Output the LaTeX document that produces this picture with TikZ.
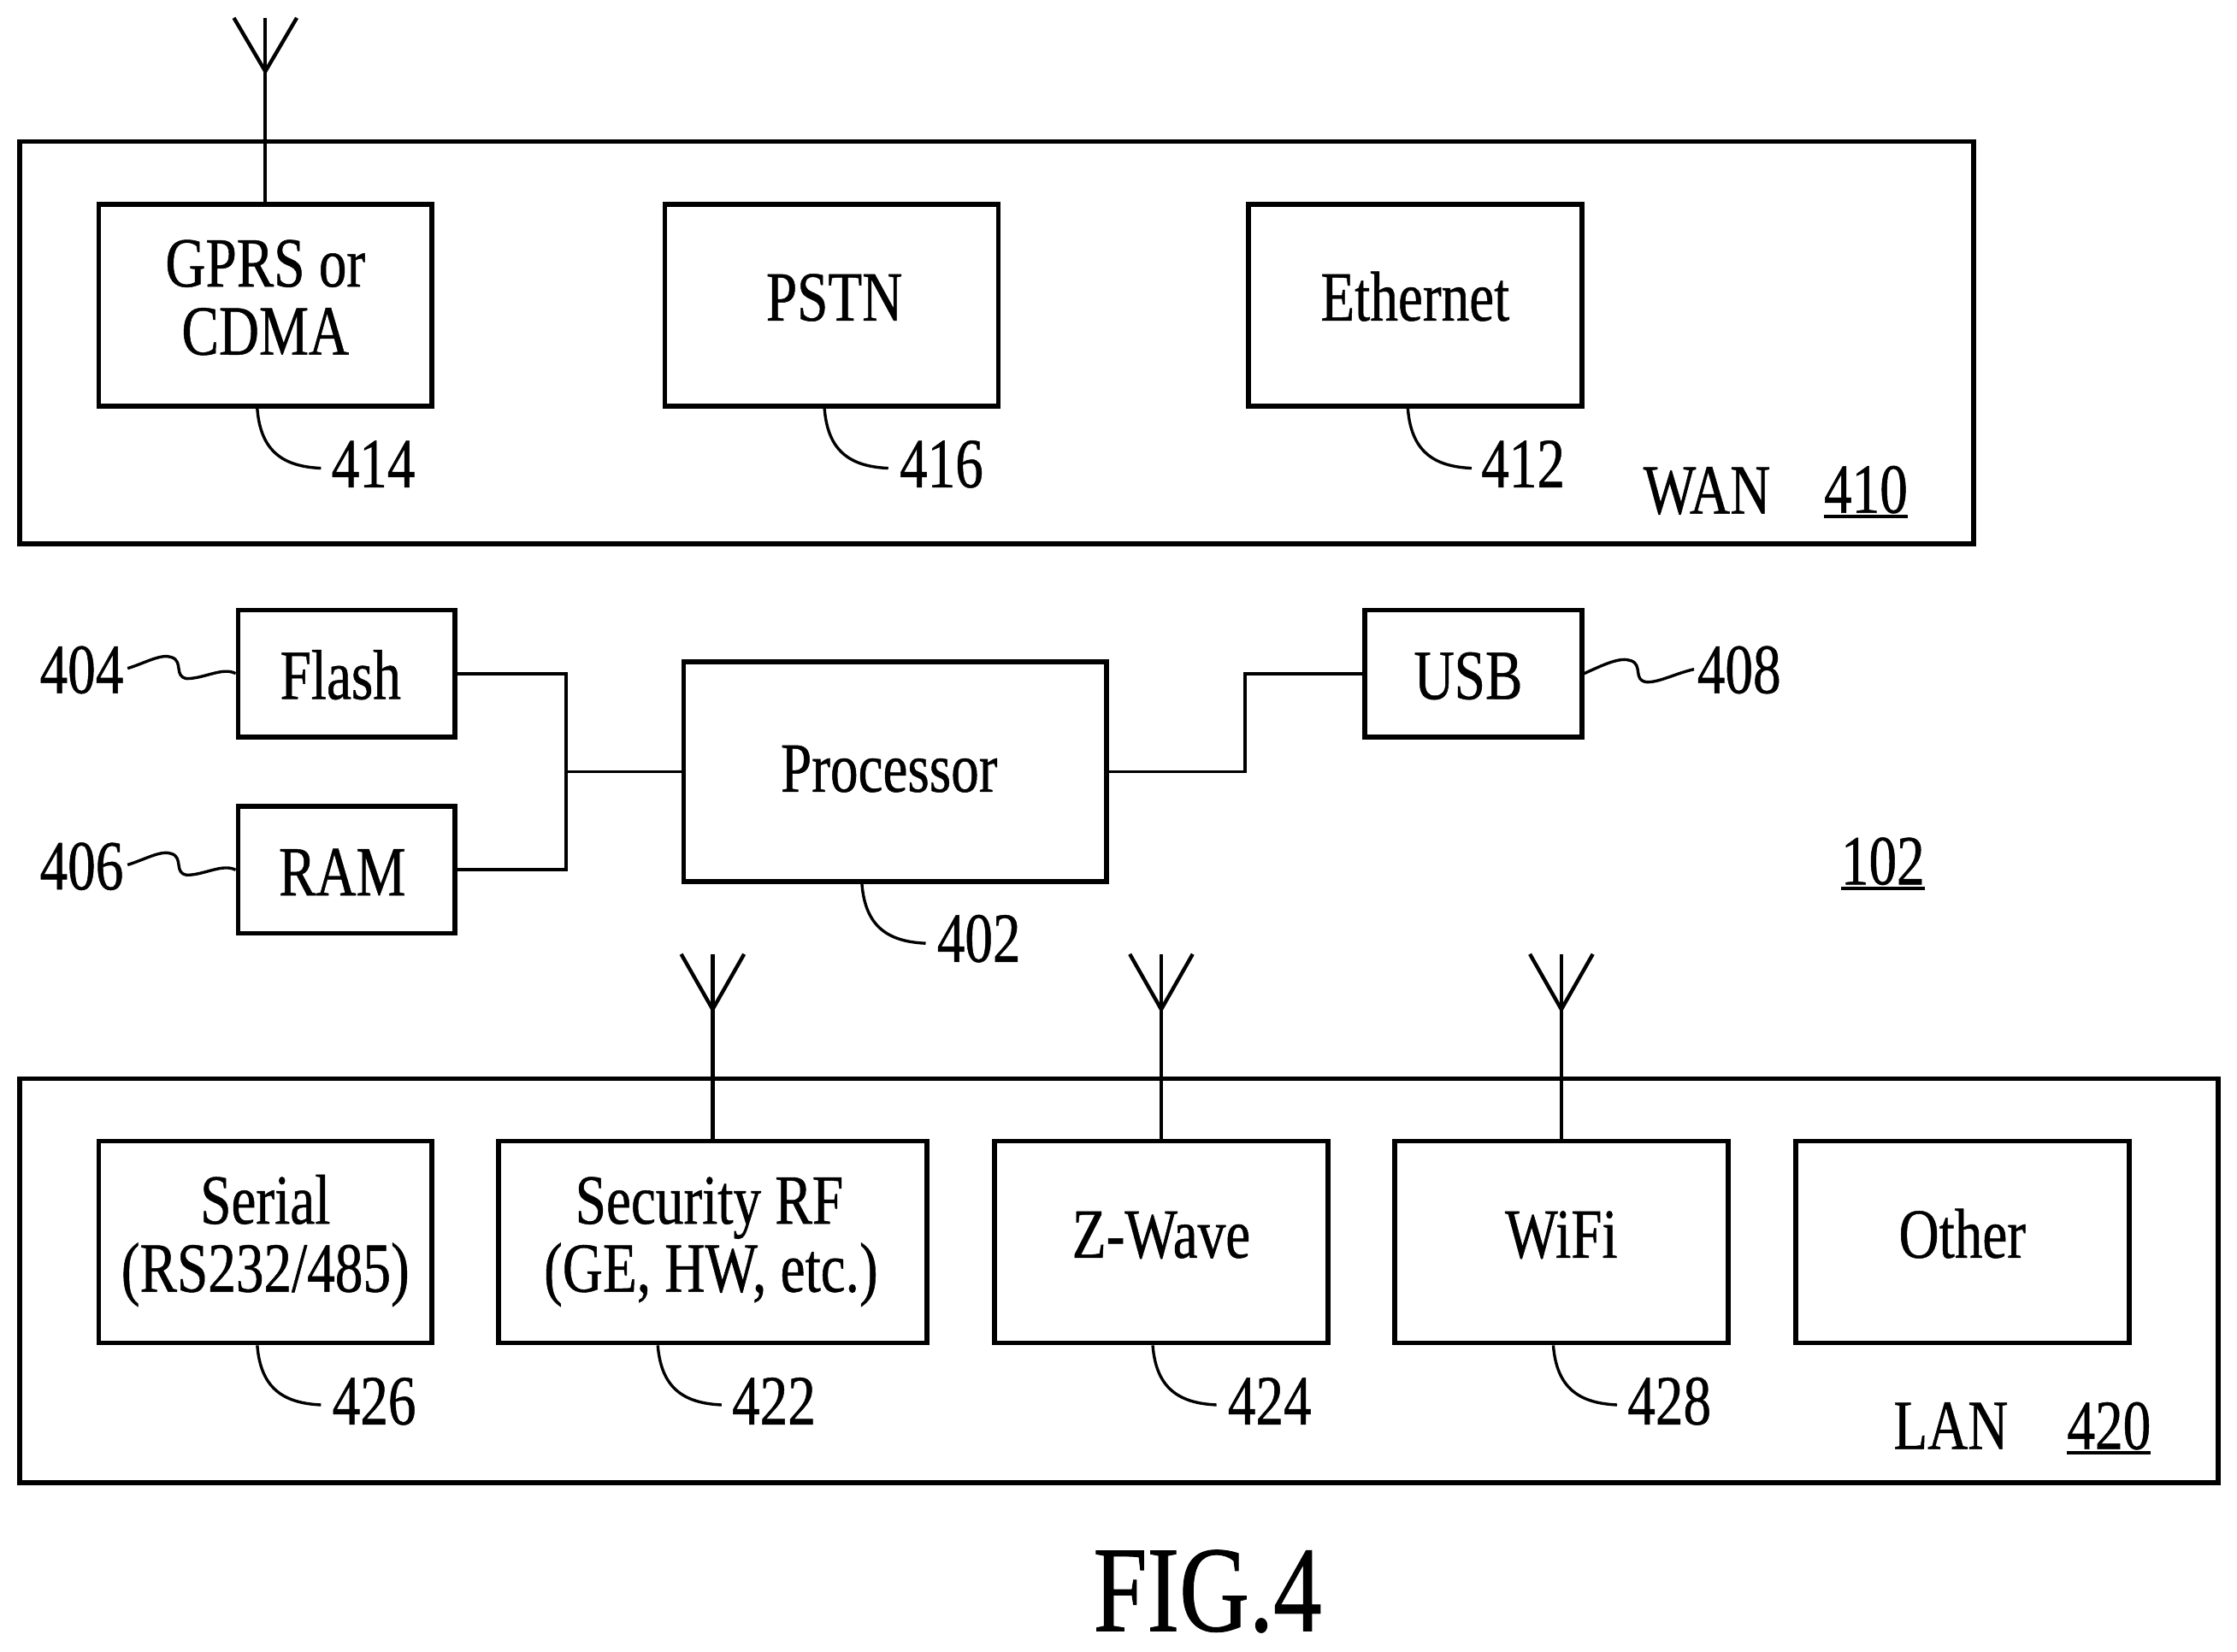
\documentclass[tikz,border=0pt]{standalone}
\usepackage{fontspec}
\usetikzlibrary{calc}
\setmainfont[FakeStretch=0.79,FakeBold=0.6]{Liberation Serif}
\newcommand\ulnum[1]{\setbox0\hbox{#1}\rlap{\rule[-1.7pt]{\wd0}{1pt}}\box0}
\tikzset{
  txt/.style={font=\fontsize{20.75}{20}\selectfont},
  bx/.style={draw,rectangle,line width=1.4pt,inner sep=0pt,align=center,txt},
  side/.style={bx,minimum width=98pt,minimum height=59.4pt},
  small/.style={bx,minimum width=63.8pt,minimum height=37.3pt,text height=15pt,text depth=0pt},
  num/.style={anchor=base,inner sep=0pt,txt},
  lead/.style={line width=0.85pt},
  wire/.style={line width=1pt},
  ant/.style={line width=1.1pt,line join=miter}
}
\begin{document}
\begin{tikzpicture}[x=0.25pt,y=-0.25pt]
\useasboundingbox (0,0) rectangle (2630.5,1942.5);
% containers
\node[bx,minimum width=574.5pt,minimum height=118.3pt] (wan) at (1172,403) {};
\node[bx,minimum width=646.3pt,minimum height=118.8pt] (lan) at (1315.5,1506) {};
% WAN
\node[side,text height=29pt,text depth=0pt] (gprs) at (312,359) {GPRS or\\CDMA};
\node[side,text height=9pt,text depth=0pt] (pstn) at (978,359) {\kern1.5pt PSTN};
\node[side,text height=9pt,text depth=0pt] (eth) at (1664,359) {Ethernet};
\node[num] (n414) at (439,573) {414};
\node[num] (n416) at (1107,573) {416};
\node[num] (n412) at (1791,573) {412};
\node[num] (wanl) at (2007,604) {WAN};
\node[num] (n410) at (2194,603) {\ulnum{410}};
% middle
\node[small] (flash) at (407.5,792) {Flash\kern3.5pt};
\node[small] (ram) at (407.5,1023) {RAM\kern2.5pt};
\node[bx,minimum width=124.3pt,minimum height=64.5pt,text height=11.75pt,text depth=0pt] (proc) at (1052.5,907.5) {Processor\kern3.5pt};
\node[small] (usb) at (1732.5,792) {USB\kern3pt};
\node[num] (n404) at (96,815) {404};
\node[num] (n406) at (96,1046) {406};
\node[num] (n408) at (2045,815) {408};
\node[num] (n102) at (2214,1040) {\ulnum{102}};
\node[num] (n402) at (1151,1131) {402};
% LAN
\node[side,text height=29.25pt,text depth=0pt] (serial) at (312,1460.5) {Serial\\(RS232/485)};
\node[side,minimum width=126pt,text height=29.25pt,text depth=0pt] (sec) at (838,1460.5) {Security RF\kern2pt\\(GE, HW, etc.)\kern1pt};
\node[side,text height=9.25pt,text depth=0pt] (zw) at (1365.5,1460.5) {Z-Wave};
\node[side,text height=9.25pt,text depth=0pt] (wifi) at (1836,1460.5) {WiFi};
\node[side,text height=9.25pt,text depth=0pt] (other) at (2307.5,1460.5) {Other};
\node[num] (n426) at (440,1675) {426};
\node[num] (n422) at (910,1675) {422};
\node[num] (n424) at (1493,1675) {424};
\node[num] (n428) at (1963,1675) {428};
\node[num] (lanl) at (2294,1704) {LAN};
\node[num] (n420) at (2480,1704) {\ulnum{420}};
\node[anchor=base,inner sep=0pt,font=\fontsize{36}{36}\selectfont] (fig) at (1420,1918) {FIG.4};
% wires
\coordinate (jl) at (666,907.5);
\draw[wire] (flash.east) -| (jl);
\draw[wire] (ram.east) -| (jl);
\draw[wire] (jl) -- (proc.west);
\coordinate (jr) at (1464,907.5);
\draw[wire] (proc.east) -- (jr) |- (usb.west);
% antennas
\foreach \b/\tipy/\topy in {gprs/84/21,sec/1187/1122,zw/1187/1122,wifi/1187/1122}{
  \coordinate (t) at (\b.north |- 0,\tipy);
  \coordinate (u) at (\b.north |- 0,\topy);
  \draw[ant] (\b.north) -- (u);
  \draw[ant] ($(u)+(-37,0)$) -- (t) -- ($(u)+(37,0)$);
}
% leaders
\foreach \s/\d in {gprs/-9.5,pstn/-8.5,eth/-8.5,proc/-39,serial/-9.5,sec/-64.5,zw/-10,wifi/-9.5}{
  \coordinate (a) at ($(\s.south)+(\d,0)$);
  \draw[lead] (a) .. controls ($(a)+(4,50)$) and ($(a)+(30,68)$) .. ($(a)+(75,70)$);
}
\draw[lead] (150,786) .. controls (170,780) and (190,768) .. (202,773) .. controls (216,778) and (204,796) .. (220,798) .. controls (240,798) and (262,784) .. (flash.west);
\draw[lead] (150,1017) .. controls (170,1011) and (190,999) .. (202,1004) .. controls (216,1009) and (204,1027) .. (220,1029) .. controls (240,1029) and (262,1015) .. (ram.west);
\draw[lead] (usb.east) .. controls (1885,782) and (1905,772) .. (1918,777) .. controls (1932,782) and (1920,800) .. (1936,802) .. controls (1950,803) and (1970,792) .. (1992,787);
\end{tikzpicture}
\end{document}
